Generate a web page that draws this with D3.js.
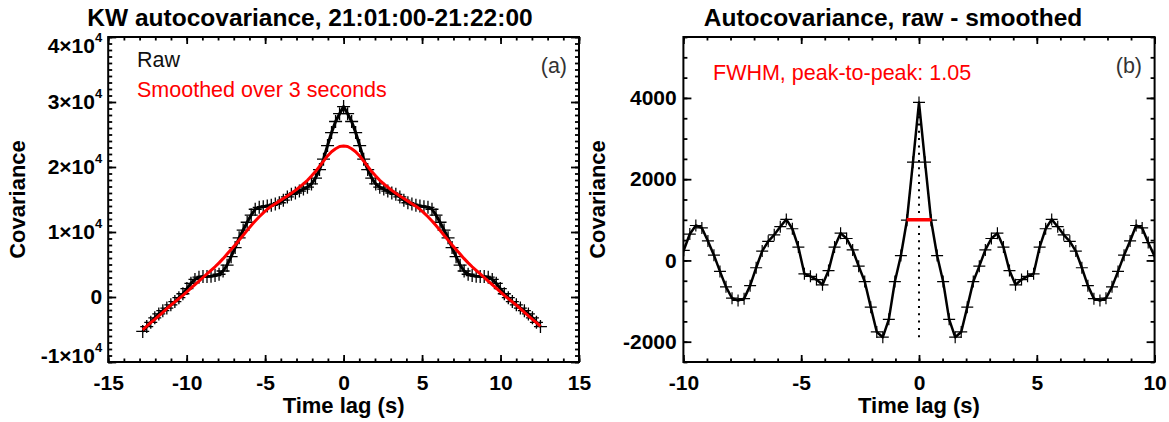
<!DOCTYPE html>
<html><head><meta charset="utf-8">
<script src="https://cdn.jsdelivr.net/npm/d3@7"></script>
<style>
body{margin:0;background:#fff}
text{font-family:"Liberation Sans",Arial,Helvetica,sans-serif}
</style>
</head><body>
<svg id="c" width="1169" height="422"></svg>
<script>
// ---------- DATA ----------
// Panel (a): lags in seconds
const lagsA = [
-12.8,-12.544,-12.288,-12.032,-11.776,-11.52,-11.264,-11.008,-10.752,-10.496,
-10.24,-9.984,-9.728,-9.472,-9.216,-8.96,-8.704,-8.448,-8.192,-7.936,
-7.68,-7.424,-7.168,-6.912,-6.656,-6.4,-6.144,-5.888,-5.632,-5.376,
-5.12,-4.864,-4.608,-4.352,-4.096,-3.84,-3.584,-3.328,-3.072,-2.816,
-2.56,-2.304,-2.048,-1.792,-1.536,-1.28,-1.024,-0.768,-0.512,-0.256,
0,0.256,0.512,0.768,1.024,1.28,1.536,1.792,2.048,2.304,
2.56,2.816,3.072,3.328,3.584,3.84,4.096,4.352,4.608,4.864,
5.12,5.376,5.632,5.888,6.144,6.4,6.656,6.912,7.168,7.424,
7.68,7.936,8.192,8.448,8.704,8.96,9.216,9.472,9.728,9.984,
10.24,10.496,10.752,11.008,11.264,11.52,11.776,12.032,12.288,12.544];
const rawA = [
-5300,-4550,-3900,-3200,-2600,-2100,-1700,-1200,-700,-100,
500,1300,2100,2700,3050,3150,3150,3200,3300,3500,
4000,4900,6200,7600,9100,10300,11500,12600,13500,13800,
13900,14000,14100,14300,14500,14900,15400,15800,16000,16300,
16600,16900,17400,18300,19600,21200,23300,25300,27000,28200,
29300,28200,27000,25300,23300,21200,19600,18300,17400,16900,
16600,16300,16000,15800,15400,14900,14500,14300,14100,14000,
13900,13800,13500,12600,11500,10300,9100,7600,6200,4900,
4000,3500,3300,3200,3150,3150,3050,2700,2100,1300,
500,-100,-700,-1200,-1700,-2100,-2600,-3200,-3900,-4550];
const smoothA = [
-5050,-4500,-3950,-3450,-2900,-2350,-1800,-1250,-750,-250,
250,800,1350,1900,2450,3000,3550,4100,4650,5250,
5900,6600,7300,8000,8750,9500,10250,11000,11700,12350,
12950,13500,13950,14350,14750,15150,15550,15950,16400,16900,
17400,17950,18600,19300,20100,20900,21700,22350,22800,23150,
23230,23150,22800,22350,21700,20900,20100,19300,18600,17950,
17400,16900,16400,15950,15550,15150,14750,14350,13950,13500,
12950,12350,11700,11000,10250,9500,8750,8000,7300,6600,
5900,5250,4650,4100,3550,3000,2450,1900,1350,800,
250,-250,-750,-1250,-1800,-2350,-2900,-3450,-3950,-4500];

// Panel (b): raw - smoothed
const lagsB = [
-10.24,-9.984,-9.728,-9.472,-9.216,-8.96,-8.704,-8.448,-8.192,-7.936,
-7.68,-7.424,-7.168,-6.912,-6.656,-6.4,-6.144,-5.888,-5.632,-5.376,
-5.12,-4.864,-4.608,-4.352,-4.096,-3.84,-3.584,-3.328,-3.072,-2.816,
-2.56,-2.304,-2.048,-1.792,-1.536,-1.28,-1.024,-0.768,-0.512,-0.256,
0,
0.256,0.512,0.768,1.024,1.28,1.536,1.792,2.048,2.304,2.56,
2.816,3.072,3.328,3.584,3.84,4.096,4.352,4.608,4.864,5.12,
5.376,5.632,5.888,6.144,6.4,6.656,6.912,7.168,7.424,7.68,
7.936,8.192,8.448,8.704,8.96,9.216,9.472,9.728,9.984,10.24];
const diffB = [
-100,250,650,860,800,480,130,-270,-650,-930,
-985,-940,-620,-180,230,470,630,830,1010,780,
330,-330,-390,-470,-600,-250,330,670,540,260,
-140,-520,-1150,-1760,-1890,-1450,-520,120,990,2420,
3890,
2420,990,120,-520,-1450,-1890,-1760,-1150,-520,-140,
260,540,670,330,-250,-600,-470,-390,-330,330,
780,1010,830,630,470,230,-180,-620,-940,-985,
-930,-650,-270,130,480,860,800,440,120,-150];
const fwhmWidth = 1.05;
const fwhmLevel = 1000;

// Axes / ticks
const xDomainA = [-15, 15];
const yDomainA = [-10000, 40000];
const xTicksA = [-15,-10,-5,0,5,10,15];
const xTickLabelsA = ["-15","-10","-5","0","5","10","15"];
const yTicksA = [-10000,0,10000,20000,30000,40000];
const yTickLabelsA = ["-1×10^4","0","1×10^4","2×10^4","3×10^4","4×10^4"];
const xDomainB = [-10, 10];
const yDomainB = [-2500, 5500];
const xTicksB = [-10,-5,0,5,10];
const xTickLabelsB = ["-10","-5","0","5","10"];
const yTicksB = [-2000,0,2000,4000];
const yTickLabelsB = ["-2000","0","2000","4000"];

const titleA = "KW autocovariance, 21:01:00-21:22:00";
const titleB = "Autocovariance, raw - smoothed";
const xTitle = "Time lag (s)";
const yTitle = "Covariance";
const legendA = ["Raw", "Smoothed over 3 seconds"];

// ---------- DRAW ----------
const svg = d3.select("#c");
svg.append("rect").attr("width",1169).attr("height",422).attr("fill","#fff");

function minorTicks(domain, step){
  const out=[]; const n=Math.round((domain[1]-domain[0])/step);
  for(let i=0;i<=n;i++) out.push(domain[0]+i*step);
  return out;
}

function styleAxis(g, fs){
  g.select(".domain").remove();
  g.selectAll(".tick line").attr("stroke","#000").attr("stroke-width",1.8);
  g.selectAll(".tick text").attr("fill","#000").attr("font-size",fs+"px")
   .attr("font-weight","bold").attr("font-family",'"Liberation Sans",Arial,sans-serif');
}

function panel(o){
  const x = d3.scaleLinear().domain(o.xDomain).range([o.x0,o.x1]);
  const y = d3.scaleLinear().domain(o.yDomain).range([o.y1,o.y0]);
  const g = svg.append("g");
  const fs = 21;
  // bottom
  g.append("g").attr("transform",`translate(0,${o.y1})`)
    .call(d3.axisBottom(x).tickValues(o.xMinor).tickSize(-3.5).tickFormat("")).call(a=>styleAxis(a,fs));
  g.append("g").attr("transform",`translate(0,${o.y1})`)
    .call(d3.axisBottom(x).tickValues(o.xTicks).tickSize(-7).tickPadding(13).tickFormat((d,i)=>o.xLabels[i]))
    .call(a=>styleAxis(a,fs));
  // top
  g.append("g").attr("transform",`translate(0,${o.y0})`)
    .call(d3.axisTop(x).tickValues(o.xMinor).tickSize(-3.5).tickFormat("")).call(a=>styleAxis(a,fs));
  g.append("g").attr("transform",`translate(0,${o.y0})`)
    .call(d3.axisTop(x).tickValues(o.xTicks).tickSize(-7).tickFormat("")).call(a=>styleAxis(a,fs));
  // left
  g.append("g").attr("transform",`translate(${o.x0},0)`)
    .call(d3.axisLeft(y).tickValues(o.yMinor).tickSize(-4).tickFormat("")).call(a=>styleAxis(a,fs));
  const la = g.append("g").attr("transform",`translate(${o.x0},0)`)
    .call(d3.axisLeft(y).tickValues(o.yTicks).tickSize(-8).tickPadding(o.yPad).tickFormat((d,i)=>o.yLabels[i]))
    .call(a=>styleAxis(a,fs));
  la.selectAll(".tick text").each(function(d,i){
    const parts = o.yLabels[i].split("^");
    const t = d3.select(this).text(parts[0]);
    if(o.edgeShift){
      if(d===o.yDomain[1]) t.attr("y",8.5);
      if(d===o.yDomain[0]) t.attr("y",-6.5);
    }
    if(parts[1]) t.append("tspan").attr("dy",-11).attr("font-size","13px").text(parts[1]);
  });
  // right
  g.append("g").attr("transform",`translate(${o.x1},0)`)
    .call(d3.axisRight(y).tickValues(o.yMinor).tickSize(-4).tickFormat("")).call(a=>styleAxis(a,fs));
  g.append("g").attr("transform",`translate(${o.x1},0)`)
    .call(d3.axisRight(y).tickValues(o.yTicks).tickSize(-8).tickFormat("")).call(a=>styleAxis(a,fs));
  // box
  g.append("rect").attr("x",o.x0).attr("y",o.y0).attr("width",o.x1-o.x0).attr("height",o.y1-o.y0)
    .attr("fill","none").attr("stroke","#000").attr("stroke-width",2);
  // titles
  g.append("text").attr("x",o.titleX).attr("y",26).attr("text-anchor","middle")
    .attr("font-size","24.5px").attr("font-weight","bold").text(o.title);
  g.append("text").attr("x",(o.x0+o.x1)/2).attr("y",413).attr("text-anchor","middle")
    .attr("font-size","22px").attr("font-weight","bold").text(xTitle);
  g.append("text").attr("transform",`translate(${o.yTitleX},${(o.y0+o.y1)/2}) rotate(-90)`)
    .attr("text-anchor","middle").attr("font-size","22px").attr("font-weight","bold").text(yTitle);
  return {x,y,g};
}

function plus(sel, data, x, y, s, sw){
  sel.selectAll(null).data(data).enter().append("path")
    .attr("d",`M${-s},0H${s}M0,${-s}V${s}`)
    .attr("transform",d=>`translate(${x(d[0])},${y(d[1])})`)
    .attr("stroke","#000").attr("stroke-width",sw).attr("fill","none");
}

// ----- Panel (a)
const A = panel({x0:108.2,x1:579,y0:37,y1:362,xDomain:xDomainA,yDomain:yDomainA,
  xTicks:xTicksA,xLabels:xTickLabelsA,xMinor:minorTicks(xDomainA,1),
  yTicks:yTicksA,yLabels:yTickLabelsA,yMinor:minorTicks(yDomainA,1000),yPad:6,edgeShift:true,
  title:titleA,titleX:310,yTitleX:25});
const rawPts = lagsA.map((l,i)=>[l,rawA[i]]);
const smPts = lagsA.map((l,i)=>[l,smoothA[i]]);
const lineA = d3.line().x(d=>A.x(d[0])).y(d=>A.y(d[1]));
A.g.append("path").attr("d",lineA(rawPts)).attr("fill","none").attr("stroke","#000").attr("stroke-width",3).attr("stroke-linejoin","round");
plus(A.g.append("g"), rawPts, A.x, A.y, 6.5, 1.3);
A.g.append("path").attr("d",lineA(smPts)).attr("fill","none").attr("stroke","#ff0000").attr("stroke-width",3).attr("stroke-linejoin","round");
A.g.append("text").attr("x",137).attr("y",67).attr("font-size","21.5px").attr("fill","#111").text(legendA[0]);
A.g.append("text").attr("x",137).attr("y",97).attr("font-size","21.5px").attr("fill","#ff0000").text(legendA[1]);
A.g.append("text").attr("x",567).attr("y",73).attr("text-anchor","end").attr("font-size","21.5px").attr("fill","#333").text("(a)");

// ----- Panel (b)
const B = panel({x0:683.4,x1:1154.6,y0:37,y1:362,xDomain:xDomainB,yDomain:yDomainB,
  xTicks:xTicksB,xLabels:xTickLabelsB,xMinor:minorTicks(xDomainB,1),
  yTicks:yTicksB,yLabels:yTickLabelsB,yMinor:minorTicks(yDomainB,500),yPad:6.7,edgeShift:false,
  title:titleB,titleX:893,yTitleX:605});
svg.append("defs").append("clipPath").attr("id","clipB").append("rect")
  .attr("x",683.4).attr("y",37).attr("width",1154.6-683.4).attr("height",325);
const gb = B.g.append("g").attr("clip-path","url(#clipB)");
const diffPts = lagsB.map((l,i)=>[l,diffB[i]]);
const lineB = d3.line().x(d=>B.x(d[0])).y(d=>B.y(d[1]));
gb.append("path").attr("d",lineB(diffPts)).attr("fill","none").attr("stroke","#000").attr("stroke-width",2.5).attr("stroke-linejoin","round");
plus(gb.append("g"), diffPts, B.x, B.y, 6, 1.2);
gb.append("line").attr("x1",B.x(0)).attr("x2",B.x(0))
  .attr("y1",B.y(d3.min(diffB))).attr("y2",B.y(d3.max(diffB)))
  .attr("stroke","#000").attr("stroke-width",2).attr("stroke-dasharray","2,5.3");
gb.append("line").attr("x1",B.x(-fwhmWidth/2)).attr("x2",B.x(fwhmWidth/2))
  .attr("y1",B.y(fwhmLevel)).attr("y2",B.y(fwhmLevel))
  .attr("stroke","#ff0000").attr("stroke-width",3.5);
B.g.append("text").attr("x",713).attr("y",80).attr("font-size","21.5px").attr("fill","#ff0000")
  .text("FWHM, peak-to-peak: " + fwhmWidth.toFixed(2));
B.g.append("text").attr("x",1142).attr("y",73).attr("text-anchor","end").attr("font-size","21.5px").attr("fill","#333").text("(b)");
</script>
</body></html>
